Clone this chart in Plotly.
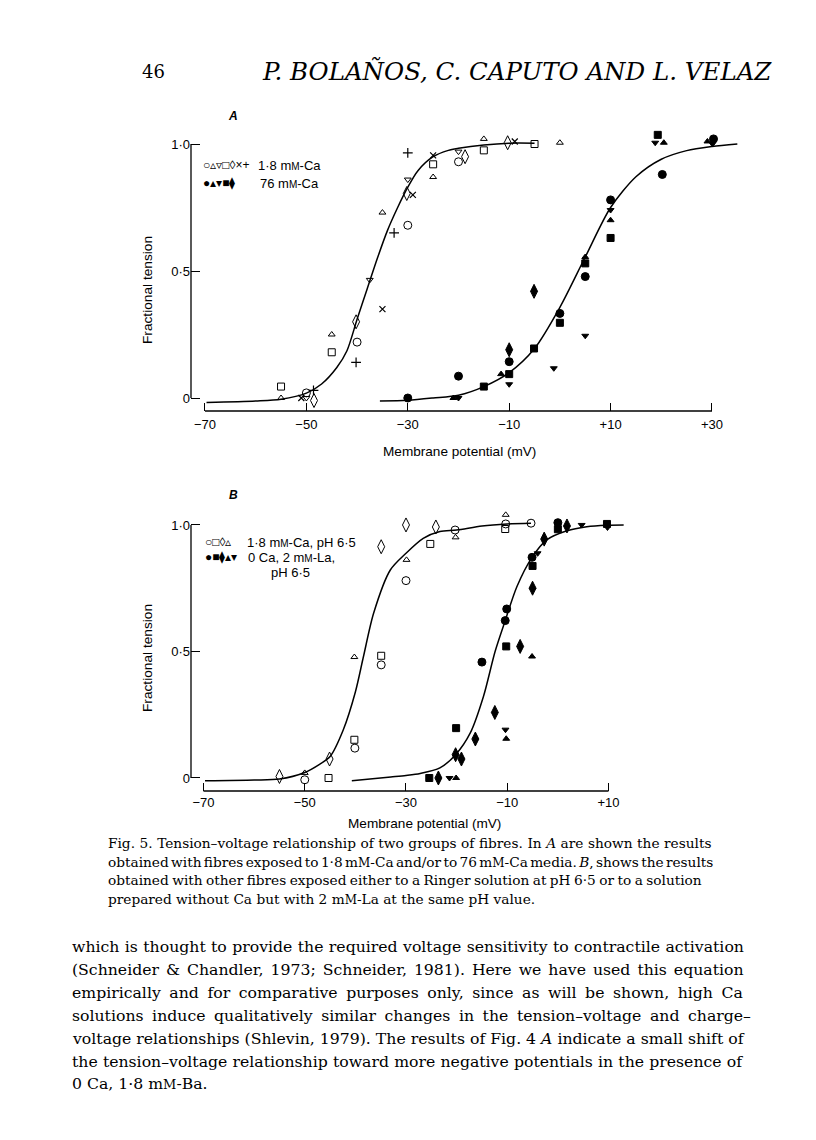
import plotly.graph_objects as go

# page is 816x1140; the html body has an 8px margin, so the figure is 800x1124 offset by 8px
OX, OY = 8, 8
FW, FH = 800, 1124

# ---------------- Panel A data (1.8 mM-Ca, open symbols) ----------------
A_circ_o_x = [-50, -40, -30, -20]
A_circ_o_y = [0.02, 0.22, 0.68, 0.93]
A_tri_o_x = [-55, -45, -35, -25, -15, 0]
A_tri_o_y = [0.0, 0.25, 0.73, 0.87, 1.02, 1.005]
A_tdn_o_x = [-50, -37.5, -30, -20]
A_tdn_o_y = [0.0, 0.465, 0.86, 0.97]
A_sq_o_x = [-55, -45, -25, -15, -5]
A_sq_o_y = [0.045, 0.18, 0.92, 0.975, 1.0]
A_dia_o_x = [-48.5, -40.2, -30.2, -18.7, -10.3]
A_dia_o_y = [-0.01, 0.30, 0.805, 0.95, 1.005]
A_x_x = [-51, -35, -29, -25, -8.9]
A_x_y = [0.0, 0.35, 0.80, 0.955, 1.01]
A_plus_x = [-48.6, -40.2, -32.7, -30]
A_plus_y = [0.03, 0.14, 0.65, 0.965]

# ---------------- Panel A data (76 mM-Ca, filled symbols) ----------------
A_circ_x = [-30, -20, -10, 0, 5, 10, 20.2, 30.3]
A_circ_y = [0.0, 0.086, 0.143, 0.333, 0.478, 0.78, 0.88, 1.02]
A_tri_x = [-21, -11.6, 5, 10, 20.5, 29.1]
A_tri_y = [0.0, 0.094, 0.555, 0.70, 1.005, 1.01]
A_tdn_x = [-20, -10, -1.2, 5, 10, 18.8, 30.1]
A_tdn_y = [0.0, 0.054, 0.117, 0.245, 0.74, 1.005, 1.0]
A_sq_x = [-15, -10, -5.1, 0, 5, 10, 19.3]
A_sq_y = [0.045, 0.094, 0.195, 0.296, 0.53, 0.63, 1.036]
A_dia_x = [-10, -5.1]
A_dia_y = [0.19, 0.42]

# fitted curves
A_fit1_x = [-69.7, -60, -55, -50, -47, -44, -42, -40, -38, -36, -34, -32, -30, -28, -25, -22, -20, -15, -10, -5]
A_fit1_y = [-0.018, -0.012, -0.005, 0.019, 0.055, 0.12, 0.186, 0.31, 0.43, 0.55, 0.66, 0.75, 0.83, 0.895, 0.95, 0.975, 0.983, 0.996, 1.003, 1.003]
A_fit2_x = [-35.5, -30, -25, -20, -15, -10, -5, 0, 5, 10, 15, 20, 25, 30, 35]
A_fit2_y = [-0.012, -0.009, 0.0, 0.011, 0.045, 0.10, 0.195, 0.357, 0.555, 0.75, 0.871, 0.94, 0.974, 0.99, 1.0]

# ---------------- Panel B data (1.8 mM-Ca, pH 6.5, open) ----------------
B_circ_o_x = [-50, -40.1, -34.9, -30, -20.3, -10.3, -5.3]
B_circ_o_y = [-0.007, 0.118, 0.447, 0.78, 0.98, 1.004, 1.007]
B_sq_o_x = [-45.3, -40.2, -34.9, -25.2, -10.4]
B_sq_o_y = [0.0, 0.151, 0.483, 0.925, 0.984]
B_dia_o_x = [-55, -45.1, -34.9, -30, -24.1]
B_dia_o_y = [0.006, 0.075, 0.914, 1.0, 0.992]
B_tri_o_x = [-50, -40.2, -29.9, -20.2, -10.3]
B_tri_o_y = [0.02, 0.478, 0.862, 0.951, 1.04]

# ---------------- Panel B data (0 Ca, 2 mM-La, filled) ----------------
B_circ_x = [-15, -10.4, -10.1, -5.1, 0]
B_circ_y = [0.458, 0.622, 0.668, 0.872, 1.009]
B_sq_x = [-25.4, -20.1, -10.2, -5, 0, 9.7]
B_sq_y = [0.0, 0.197, 0.52, 0.838, 0.983, 1.004]
B_dia_x = [-23.6, -20.2, -19.05, -16.3, -12.45, -7.45, -5, -2.7, 1.8]
B_dia_y = [0.0, 0.092, 0.075, 0.154, 0.259, 0.52, 0.75, 0.944, 0.996]
B_tri_x = [-20.1, -10.2, -5.1]
B_tri_y = [0.0, 0.155, 0.48]
B_tdn_x = [-21.4, -10.35, -4.0, 4.7, 9.8]
B_tdn_y = [0.0, 0.191, 0.888, 1.0, 0.99]

B_fit1_x = [-69.7, -60, -55, -50, -47, -45, -42.4, -40, -38.4, -36.4, -33.1, -30, -26.6, -23.3, -20, -15, -10, -5.3]
B_fit1_y = [-0.011, -0.008, -0.004, 0.022, 0.055, 0.085, 0.19, 0.34, 0.48, 0.651, 0.822, 0.888, 0.947, 0.974, 0.98, 0.996, 1.004, 1.007]
B_fit2_x = [-40.7, -33, -30, -27.2, -23.3, -20.2, -17.3, -14.7, -12.4, -10.4, -8.1, -5.1, -2.2, 1.8, 5.7, 9.7, 13]
B_fit2_y = [-0.011, 0.004, 0.01, 0.018, 0.04, 0.092, 0.178, 0.322, 0.5, 0.622, 0.756, 0.872, 0.941, 0.977, 0.993, 0.999, 1.0]

# ticks
A_tickvals = [-70, -50, -30, -10, 10, 30]
A_ticktext = ["\u221270", "\u221250", "\u221230", "\u221210", "+10", "+30"]
B_tickvals = [-70, -50, -30, -10, 10]
B_ticktext = ["\u221270", "\u221250", "\u221230", "\u221210", "+10"]
Y_tickvals = [0, 0.5, 1.0]
Y_ticktext = ["0", "0\u00b75", "1\u00b70"]

SANS = "Liberation Sans, Arial, sans-serif"
SERIF = "DejaVu Serif, serif"

fig = go.Figure()


def pts(x, y, symbol, size, xa, ya, lw=1.0):
    fig.add_trace(go.Scatter(
        x=x, y=y, mode="markers", xaxis=xa, yaxis=ya, cliponaxis=False,
        showlegend=False, hoverinfo="skip",
        marker=dict(symbol=symbol, size=size, color="black",
                    line=dict(color="black", width=lw))))


def curve(x, y, xa, ya):
    fig.add_trace(go.Scatter(
        x=x, y=y, mode="lines", xaxis=xa, yaxis=ya, cliponaxis=False,
        showlegend=False, hoverinfo="skip",
        line=dict(color="black", width=1.5, shape="spline", smoothing=0.8)))


# Panel A
curve(A_fit1_x, A_fit1_y, "x", "y")
curve(A_fit2_x, A_fit2_y, "x", "y")
pts(A_circ_o_x, A_circ_o_y, "circle-open", 8, "x", "y")
pts(A_tri_o_x, A_tri_o_y, "triangle-up-open", 6, "x", "y")
pts(A_tdn_o_x, A_tdn_o_y, "triangle-down-open", 6, "x", "y")
pts(A_sq_o_x, A_sq_o_y, "square-open", 7, "x", "y")
pts(A_dia_o_x, A_dia_o_y, "diamond-tall-open", 10, "x", "y")
pts(A_x_x, A_x_y, "x-thin", 6, "x", "y", 1.2)
pts(A_plus_x, A_plus_y, "cross-thin", 7, "x", "y", 1.2)
pts(A_circ_x, A_circ_y, "circle", 8, "x", "y")
pts(A_tri_x, A_tri_y, "triangle-up", 6, "x", "y")
pts(A_tdn_x, A_tdn_y, "triangle-down", 6, "x", "y")
pts(A_sq_x, A_sq_y, "square", 7, "x", "y")
pts(A_dia_x, A_dia_y, "diamond-tall", 10, "x", "y")

# Panel B
curve(B_fit1_x, B_fit1_y, "x2", "y2")
curve(B_fit2_x, B_fit2_y, "x2", "y2")
pts(B_circ_o_x, B_circ_o_y, "circle-open", 8, "x2", "y2")
pts(B_sq_o_x, B_sq_o_y, "square-open", 7, "x2", "y2")
pts(B_dia_o_x, B_dia_o_y, "diamond-tall-open", 10, "x2", "y2")
pts(B_tri_o_x, B_tri_o_y, "triangle-up-open", 6, "x2", "y2")
pts(B_circ_x, B_circ_y, "circle", 8, "x2", "y2")
pts(B_sq_x, B_sq_y, "square", 7, "x2", "y2")
pts(B_dia_x, B_dia_y, "diamond-tall", 10, "x2", "y2")
pts(B_tri_x, B_tri_y, "triangle-up", 6, "x2", "y2")
pts(B_tdn_x, B_tdn_y, "triangle-down", 6, "x2", "y2")


def PX(x):
    return (x - OX) / FW


def PY(y):
    return 1 - (y - OY) / FH


axis_common = dict(showgrid=False, zeroline=False, showline=False, ticks="inside",
                   tickcolor="black", tickwidth=1.3, tickfont=dict(family=SANS, size=13, color="black"))

fig.update_layout(
    width=FW, height=FH, margin=dict(l=0, r=0, t=0, b=0),
    paper_bgcolor="white", plot_bgcolor="white", showlegend=False,
    xaxis=dict(domain=[PX(191), PX(745)], range=[-72.76, 36.51], anchor="y",
               tickvals=A_tickvals, ticktext=A_ticktext, ticklen=8,
               ticklabelstandoff=4, **axis_common),
    yaxis=dict(domain=[PY(411), PY(128)], range=[-0.0512, 1.063], anchor="x",
               tickvals=Y_tickvals, ticktext=Y_ticktext, ticklen=9, **axis_common),
    xaxis2=dict(domain=[PX(191), PX(630)], range=[-72.47, 14.25], anchor="y2",
                tickvals=B_tickvals, ticktext=B_ticktext, ticklen=8,
                ticklabelstandoff=2, **axis_common),
    yaxis2=dict(domain=[PY(791), PY(508)], range=[-0.0514, 1.067], anchor="x2",
                tickvals=Y_tickvals, ticktext=Y_ticktext, ticklen=9, **axis_common),
)

# axis lines (offset frame as in the original)
line_style = dict(color="black", width=1.3)
fig.add_shape(type="line", xref="x", yref="y domain", x0=-70, x1=30, y0=0, y1=0, line=line_style)
fig.add_shape(type="line", xref="x domain", yref="y", x0=0, x1=0, y0=0, y1=1, line=line_style)
fig.add_shape(type="line", xref="x2", yref="y2 domain", x0=-70, x1=10, y0=0, y1=0, line=line_style)
fig.add_shape(type="line", xref="x2 domain", yref="y2", x0=0, x1=0, y0=0, y1=1, line=line_style)


def text(x, y, s, size=13, family=SANS, xanchor="center", angle=0, color="black"):
    fig.add_annotation(x=PX(x), y=PY(y), xref="paper", yref="paper", text=s, showarrow=False,
                       xanchor=xanchor, yanchor="middle", textangle=angle,
                       font=dict(family=family, size=size, color=color))


def spaced(s, ws):
    if ws == 0:
        return s
    return "<span style='word-spacing:%.2fpx'>%s</span>" % (ws, s)


MM = "m<span style='font-size:10px'>M</span>"
MMs = "m<span style='font-size:12px'>M</span>"

# page header
text(140, 71, "46", size=18, family=SERIF, xanchor="left")
text(517, 71, "<i>P. BOLAÑOS, C. CAPUTO AND L. VELAZ</i>", size=24.5, family=SERIF)

# panel labels
text(233, 116, "<b><i>A</i></b>", size=12)
text(233, 495, "<b><i>B</i></b>", size=12)

# axis titles
text(459, 452, "Membrane potential (mV)", size=13.6)
text(147, 290, "Fractional tension", size=13.7, angle=-90)
text(424, 823, "Membrane potential (mV)", size=13.6)
text(147, 658, "Fractional tension", size=13.7, angle=-90)

# legends
text(201, 165, "\u25cb\u25b5\u25bf\u25a1\u25ca\u00d7+", size=12, xanchor="left")
text(256, 165, "1\u00b78 " + MM + "-Ca", size=13, xanchor="left")
text(201, 183, "\u25cf\u25b4\u25be\u25a0\u29eb", size=12, xanchor="left")
text(258, 183, "76 " + MM + "-Ca", size=13, xanchor="left")

text(203, 542, "\u25cb\u25a1\u25ca\u25b5", size=12, xanchor="left")
text(245, 542, "1\u00b78 " + MM + "-Ca, pH 6\u00b75", size=13, xanchor="left")
text(203, 557, "\u25cf\u25a0\u29eb\u25b4\u25be", size=12, xanchor="left")
text(246, 557, "0 Ca, 2 " + MM + "-La,", size=13, xanchor="left")
text(269, 572, "pH 6\u00b75", size=13, xanchor="left")

# caption
caption = [
    "Fig. 5. Tension\u2013voltage relationship of two groups of fibres. In <i>A</i> are shown the results",
    "obtained with fibres exposed to 1\u00b78 " + MMs + "-Ca and/or to 76 " + MMs + "-Ca media. <i>B</i>, shows the results",
    "obtained with other fibres exposed either to a Ringer solution at pH 6\u00b75 or to a solution",
    "prepared without Ca but with 2 " + MMs + "-La at the same pH value.",
]
caption_ws = [0.2, -2.0, -0.9, 0]
for i, s in enumerate(caption):
    text(105.5, 843 + i * 18.7, spaced(s, caption_ws[i]), size=13.7, family=SERIF, xanchor="left")

body = [
    "which is thought to provide the required voltage sensitivity to contractile activation",
    "(Schneider &amp; Chandler, 1973; Schneider, 1981). Here we have used this equation",
    "empirically and for comparative purposes only, since as will be shown, high Ca",
    "solutions induce qualitatively similar changes in the tension\u2013voltage and charge\u2013",
    "voltage relationships (Shlevin, 1979). The results of Fig. 4 <i>A</i> indicate a small shift of",
    "the tension\u2013voltage relationship toward more negative potentials in the presence of",
    "0 Ca, 1\u00b78 m<span style='font-size:13px'>M</span>-Ba.",
]
body_ws = [0.4, 2.0, 3.6, 3.6, 0, 0.2, 0]
for i, s in enumerate(body):
    text(70, 947 + i * 22.8, spaced(s, body_ws[i]), size=15.7, family=SERIF, xanchor="left")

fig.write_html("out.html")
